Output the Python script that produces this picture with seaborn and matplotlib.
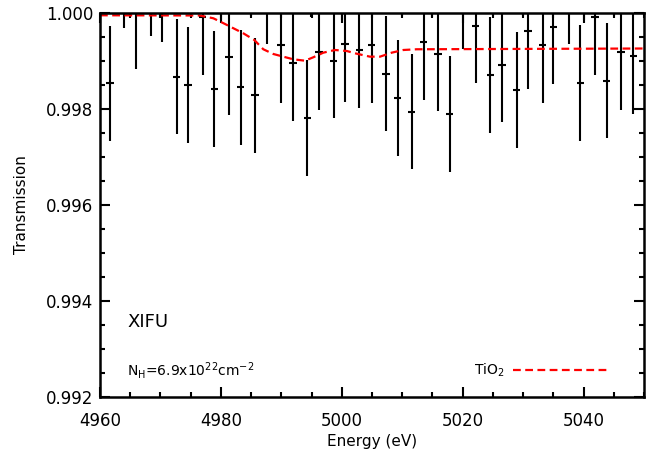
import numpy as np
import pandas as pd
import matplotlib
matplotlib.use("Agg")
import matplotlib.pyplot as plt
import seaborn as sns

# simulated XIFU spectrum (transmission)
energy = [4961.65, 4964.02, 4964.96, 4965.96, 4968.39, 4970.26, 4972.69, 4974.56,
          4976.99, 4978.91, 4979.97, 4981.34, 4983.28, 4984.93, 4985.65, 4987.63,
          4989.95, 4991.93, 4994.30, 4994.96, 4996.23, 4998.67, 5000.04, 5000.54,
          5002.90, 5004.95, 5007.32, 5009.26, 5009.92, 5011.57, 5013.56, 5014.93,
          5015.92, 5017.86, 5020.11, 5022.16, 5024.58, 5024.97, 5026.51, 5028.94,
          5029.99, 5030.81, 5033.24, 5034.99, 5037.60, 5039.46, 5040.02, 5041.90,
          5043.82, 5045.04, 5046.20, 5048.24]
trans = [0.998535, 1.000888, 1.001158, 1.000027, 1.000727, 1.000590, 0.998673, 0.998500,
         0.999908, 0.998417, 1.001054, 0.999077, 0.998452, 1.001138, 0.998285, 1.000548,
         0.999327, 0.998952, 0.997813, 1.001123, 0.999188, 0.999006, 1.001054, 0.999354,
         0.999229, 0.999333, 0.998735, 0.998229, 1.001138, 0.997944, 0.999390, 1.001123,
         0.999152, 0.997896, 1.000444, 0.999735, 0.998708, 1.001138, 0.998923, 0.998396,
         1.001138, 0.999625, 0.999327, 0.999715, 1.000554, 0.998542, 1.001054, 0.999910,
         0.998590, 1.001138, 0.999181, 0.999104]
trans_err = 0.0012
energy_err = 0.6

# TiO2 model curve
model_energy = [4960.0, 4976.5, 4978.75, 4980.68, 4983.71, 4985.53, 4987.02, 4988.67,
                4990.33, 4991.98, 4993.92, 4995.29, 4996.95, 4998.88, 5000.82, 5002.46,
                5004.67, 5006.33, 5008.26, 5010.18, 5012.40, 5050.0]
model_trans = [0.999952, 0.999948, 0.999890, 0.999771, 0.999577, 0.999438, 0.999244, 0.999146,
               0.999090, 0.999035, 0.999006, 0.999077, 0.999173, 0.999229, 0.999208, 0.999152,
               0.999090, 0.999090, 0.999173, 0.999229, 0.999244, 0.999260]

sns.set_style("ticks")
plt.rcParams['font.family'] = ['DejaVu Sans']
plt.rcParams['text.color'] = 'black'
plt.rcParams['axes.labelcolor'] = 'black'

fig = plt.figure(figsize=(6.59, 4.54), dpi=100)
ax = fig.add_axes([0.1517, 0.1256, 0.8255, 0.8458])

ax.errorbar(energy, trans, yerr=trans_err, xerr=energy_err, fmt='none',
            ecolor='black', elinewidth=1.5, capsize=0)

model = pd.DataFrame({'Energy': model_energy, 'Transmission': model_trans})
sns.lineplot(data=model, x='Energy', y='Transmission', ax=ax, color='red',
             lw=1.6, linestyle=(0, (3.5, 2)), label='TiO$_2$')

ax.set_xlim(4960, 5050)
ax.set_ylim(0.992, 1.000)
ax.set_xticks([4960, 4980, 5000, 5020, 5040])
ax.set_yticks([0.992, 0.994, 0.996, 0.998, 1.000])
ax.set_yticklabels(['0.992', '0.994', '0.996', '0.998', '1.000'])
ax.set_xticks(np.arange(4960, 5051, 5), minor=True)
ax.set_yticks(np.arange(0.992, 1.0001, 0.0005), minor=True)
ax.tick_params(which='both', direction='in', top=True, right=True, width=1.5,
               labelsize=12, colors='black')
ax.tick_params(which='major', length=7)
ax.tick_params(which='minor', length=3.5)
ax.tick_params(axis='x', which='major', pad=11)
ax.tick_params(axis='y', which='major', pad=5)
for s in ax.spines.values():
    s.set_linewidth(1.8)
    s.set_color('black')

ax.set_xlabel('Energy (eV)', fontsize=11, labelpad=3)
ax.set_ylabel('Transmission', fontsize=11, labelpad=12)

ax.text(0.05, 0.195, 'XIFU', transform=ax.transAxes, fontsize=13, va='center')
ax.text(0.05, 0.07, r'N$_\mathrm{H}$=6.9x10$^{22}$cm$^{-2}$', transform=ax.transAxes,
        fontsize=10, va='center')

ax.legend(loc='center right', bbox_to_anchor=(0.9375, 0.07), frameon=False,
          markerfirst=False, handlelength=7.0, handletextpad=0.6, borderpad=0,
          borderaxespad=0, fontsize=10)

fig.savefig('out.png', dpi=100)
